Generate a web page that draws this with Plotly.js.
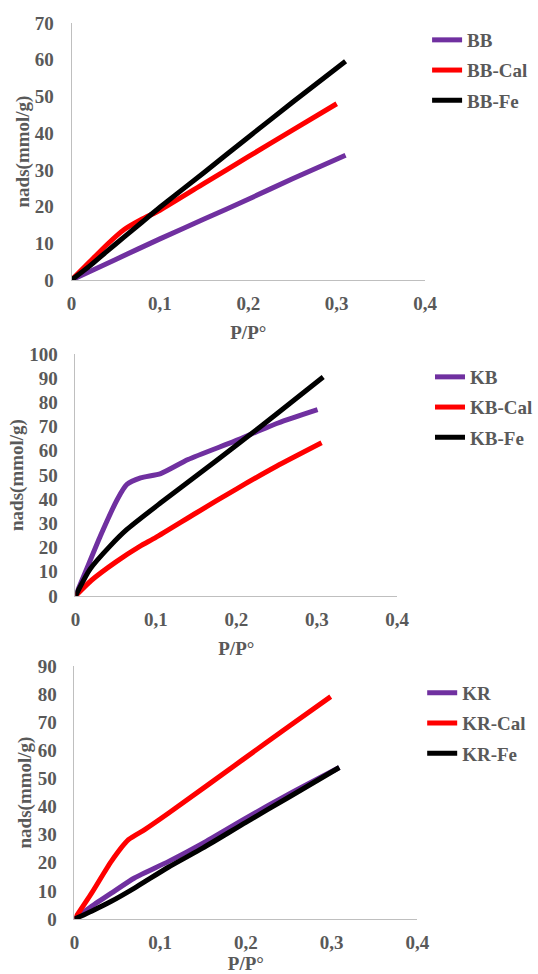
<!DOCTYPE html>
<html>
<head>
<meta charset="utf-8">
<script src="https://cdn.plot.ly/plotly-3.0.1.min.js"></script>
<style>html,body{margin:0;padding:0;background:#fff;}#chart{width:538px;height:974px;}</style>
</head>
<body>
<div id="chart"></div>
<script>
// ---- Data ----
var xTickVals = [0, 0.1, 0.2, 0.3, 0.4];
var xTickText = ['0', '0,1', '0,2', '0,3', '0,4'];

// Panel 1
var bbX    = [0, 0.05, 0.1, 0.15, 0.2, 0.25, 0.31];
var bbY    = [0, 5.6, 11.2, 16.6, 22, 27.6, 34];
var bbCalX = [0, 0.02, 0.04, 0.06, 0.08, 0.1, 0.15, 0.2, 0.25, 0.30];
var bbCalY = [0, 4.8, 9.6, 13.8, 16.6, 19, 26.3, 33.6, 40.8, 48];
var bbFeX  = [0, 0.02, 0.04, 0.06, 0.08, 0.1, 0.15, 0.2, 0.25, 0.31];
var bbFeY  = [0, 3.7, 7.8, 11.8, 15.8, 19.8, 29.3, 38.9, 48.4, 59.6];

// Panel 2
var kbX    = [0, 0.015, 0.031, 0.052, 0.064, 0.081, 0.106, 0.14, 0.198, 0.252, 0.301];
var kbY    = [0, 12, 24.8, 39.9, 46.1, 48.8, 50.6, 56.4, 64, 71.5, 77];
var kbCalX = [0, 0.02, 0.05, 0.08, 0.1, 0.15, 0.2, 0.25, 0.306];
var kbCalY = [0, 6.5, 14, 20.5, 24.2, 34.3, 44.2, 53.6, 63.3];
var kbFeX  = [0, 0.018, 0.043, 0.064, 0.106, 0.15, 0.2065, 0.25, 0.308];
var kbFeY  = [0, 11, 20.6, 27.5, 38.5, 49.6, 63.9, 75.2, 90.5];

// Panel 3
var krX    = [0, 0.02, 0.043, 0.07, 0.11, 0.15, 0.2, 0.25, 0.309];
var krY    = [0, 4.5, 9.2, 14.6, 20.5, 27, 35.9, 44.4, 53.9];
var krCalX = [0, 0.02, 0.043, 0.063, 0.082, 0.11, 0.196, 0.25, 0.299];
var krCalY = [0, 9.2, 20.5, 28.2, 31.8, 37.7, 56.6, 68.5, 79.1];
var krFeX  = [0, 0.02, 0.043, 0.07, 0.11, 0.15, 0.2, 0.25, 0.309];
var krFeY  = [0, 2.8, 6.3, 11, 18.5, 25.3, 34.4, 43.3, 53.9];

var names1 = ['BB', 'BB-Cal', 'BB-Fe'];
var names2 = ['KB', 'KB-Cal', 'KB-Fe'];
var names3 = ['KR', 'KR-Cal', 'KR-Fe'];
var colors = ['#7030A0', '#FF0000', '#000000'];

var FONT = 'Liberation Serif, Times New Roman, serif';
var GRAY = '#595959';

function tr(x, y, name, color, xa, ya, leg) {
  return {
    x: x, y: y, name: name, type: 'scatter', mode: 'lines',
    line: {color: color, width: 5, shape: 'spline', smoothing: 0.6},
    xaxis: xa, yaxis: ya, legend: leg, legendgroup: name,
    hoverinfo: 'skip'
  };
}

var data = [
  tr(bbX, bbY, names1[0], colors[0], 'x', 'y', 'legend'),
  tr(bbCalX, bbCalY, names1[1], colors[1], 'x', 'y', 'legend'),
  tr(bbFeX, bbFeY, names1[2], colors[2], 'x', 'y', 'legend'),
  tr(kbX, kbY, names2[0], colors[0], 'x2', 'y2', 'legend2'),
  tr(kbCalX, kbCalY, names2[1], colors[1], 'x2', 'y2', 'legend2'),
  tr(kbFeX, kbFeY, names2[2], colors[2], 'x2', 'y2', 'legend2'),
  tr(krX, krY, names3[0], colors[0], 'x3', 'y3', 'legend3'),
  tr(krCalX, krCalY, names3[1], colors[1], 'x3', 'y3', 'legend3'),
  tr(krFeX, krFeY, names3[2], colors[2], 'x3', 'y3', 'legend3')
];

var tickFont = {family: FONT, size: 19, color: GRAY, weight: 'bold'};
var titleFont = {family: FONT, size: 19, color: GRAY, weight: 'bold'};

function xaxis(domain, anchor) {
  return {
    domain: domain, anchor: anchor, range: [0, 0.4],
    tickvals: xTickVals, ticktext: xTickText,
    showgrid: false, zeroline: false, showline: true, linecolor: '#BFBFBF', linewidth: 1,
    ticks: '', tickfont: tickFont, ticklabelstandoff: 6,
    title: {text: 'P/P°', font: titleFont, standoff: 12},
    automargin: false, fixedrange: true
  };
}
function yaxis(domain, anchor, max) {
  return {
    domain: domain, anchor: anchor, range: [0, max], dtick: 10, tick0: 0,
    showgrid: false, zeroline: false, showline: true, linecolor: '#BFBFBF', linewidth: 1,
    ticks: '', tickfont: tickFont, ticklabelstandoff: 13,
    title: {text: 'nads(mmol/g)', font: titleFont, standoff: 0},
    automargin: false, fixedrange: true
  };
}
function legend(x, y) {
  return {
    x: x, y: y, xanchor: 'left', yanchor: 'top',
    font: {family: FONT, size: 19, color: GRAY, weight: 'bold'},
    bgcolor: 'rgba(0,0,0,0)', borderwidth: 0,
    tracegroupgap: 2.5, traceorder: 'grouped', itemwidth: 30
  };
}

var layout = {
  width: 538, height: 974,
  margin: {l: 0, r: 0, t: 0, b: 0},
  paper_bgcolor: '#ffffff', plot_bgcolor: '#ffffff',
  showlegend: true,
  xaxis:  xaxis([73/538, 434/538], 'y'),
  yaxis:  yaxis([1 - 280/974, 1 - 23/974], 'x', 70),
  xaxis2: xaxis([77/538, 405.5/538], 'y2'),
  yaxis2: yaxis([1 - 596/974, 1 - 354/974], 'x2', 100),
  xaxis3: xaxis([76/538, 426/538], 'y3'),
  yaxis3: yaxis([1 - 919/974, 1 - 666/974], 'x3', 90),
  legend:  legend(436/538, 1 - 21/974),
  legend2: legend(439/538, 1 - 358/974),
  legend3: legend(431/538, 1 - 674/974)
};

Plotly.newPlot('chart', data, layout, {displayModeBar: false, staticPlot: true});
</script>
</body>
</html>
